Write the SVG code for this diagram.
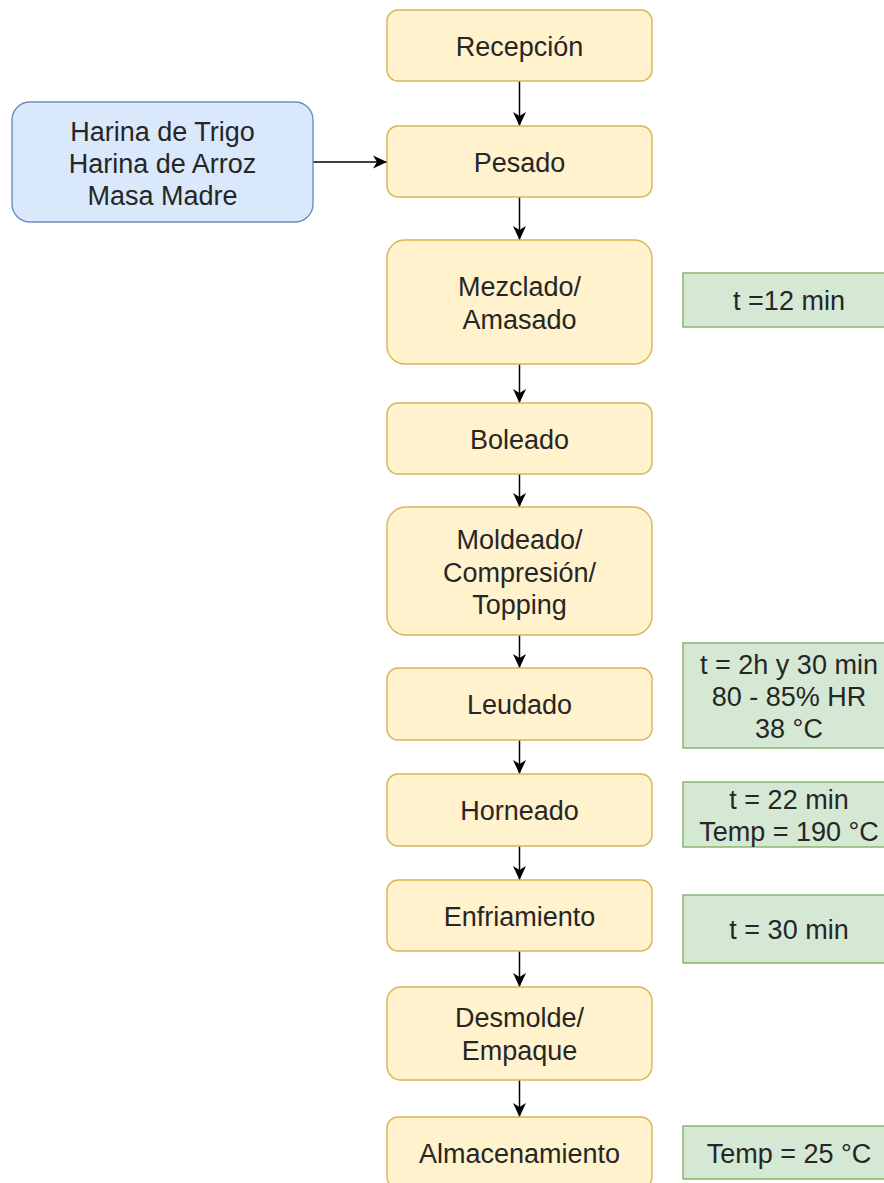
<svg xmlns="http://www.w3.org/2000/svg" width="884" height="1183" viewBox="0 0 884 1183">
<defs>
<marker id="arr" markerUnits="userSpaceOnUse" markerWidth="14" markerHeight="14" refX="14" refY="7" orient="auto" viewBox="0 0 14 14">
<path d="M0,0.5 L14,7 L0,13.5 L4,7 Z" fill="#000"/>
</marker>
<style>
.step{fill:#fff2cc;stroke:#d6b656;stroke-width:1.4}
.input{fill:#dae8fc;stroke:#6c8ebf;stroke-width:1.4}
.note{fill:#d5e8d4;stroke:#82b366;stroke-width:1.4}
text{font-family:"Liberation Sans",Arial,sans-serif;font-size:27px;fill:#262626;text-anchor:middle}
.conn{stroke:#000;stroke-width:1.5;fill:none;marker-end:url(#arr)}
</style>
</defs>
<rect width="884" height="1183" fill="#fff"/>
<g id="connectors">
<line class="conn" x1="519.5" y1="81" x2="519.5" y2="126"/>
<line class="conn" x1="313" y1="162" x2="387" y2="162"/>
<line class="conn" x1="519.5" y1="197" x2="519.5" y2="240"/>
<line class="conn" x1="519.5" y1="364" x2="519.5" y2="403"/>
<line class="conn" x1="519.5" y1="474" x2="519.5" y2="507"/>
<line class="conn" x1="519.5" y1="635" x2="519.5" y2="668"/>
<line class="conn" x1="519.5" y1="740" x2="519.5" y2="774"/>
<line class="conn" x1="519.5" y1="846" x2="519.5" y2="880"/>
<line class="conn" x1="519.5" y1="951" x2="519.5" y2="987"/>
<line class="conn" x1="519.5" y1="1080" x2="519.5" y2="1117"/>
</g>
<g id="recepcion"><rect class="step" x="387" y="10" width="265" height="71" rx="11"/><text x="519.5" y="56">Recepción</text></g>
<g id="insumos"><rect class="input" x="12" y="102" width="301" height="120" rx="18"/><text x="162.5" y="141">Harina de Trigo</text><text x="162.5" y="173">Harina de Arroz</text><text x="162.5" y="205">Masa Madre</text></g>
<g id="pesado"><rect class="step" x="387" y="126" width="265" height="71" rx="11"/><text x="519.5" y="172">Pesado</text></g>
<g id="mezclado"><rect class="step" x="387" y="240" width="265" height="124" rx="18"/><text x="519.5" y="296">Mezclado/</text><text x="519.5" y="329">Amasado</text></g>
<g id="boleado"><rect class="step" x="387" y="403" width="265" height="71" rx="11"/><text x="519.5" y="449">Boleado</text></g>
<g id="moldeado"><rect class="step" x="387" y="507" width="265" height="128" rx="19"/><text x="519.5" y="549">Moldeado/</text><text x="519.5" y="582">Compresión/</text><text x="519.5" y="614">Topping</text></g>
<g id="leudado"><rect class="step" x="387" y="668" width="265" height="72" rx="11"/><text x="519.5" y="714">Leudado</text></g>
<g id="horneado"><rect class="step" x="387" y="774" width="265" height="72" rx="11"/><text x="519.5" y="820">Horneado</text></g>
<g id="enfriamiento"><rect class="step" x="387" y="880" width="265" height="71" rx="11"/><text x="519.5" y="926">Enfriamiento</text></g>
<g id="desmolde"><rect class="step" x="387" y="987" width="265" height="93" rx="14"/><text x="519.5" y="1027">Desmolde/</text><text x="519.5" y="1060">Empaque</text></g>
<g id="almacenamiento"><rect class="step" x="387" y="1117" width="265" height="71" rx="11"/><text x="519.5" y="1163">Almacenamiento</text></g>
<g id="nota-mezclado"><rect class="note" x="683" y="273" width="212" height="54"/><text x="789" y="310">t =12 min</text></g>
<g id="nota-leudado"><rect class="note" x="683" y="643" width="212" height="105"/><text x="789" y="674">t = 2h y 30 min</text><text x="789" y="706">80 - 85% HR</text><text x="789" y="738">38 °C</text></g>
<g id="nota-horneado"><rect class="note" x="683" y="782" width="212" height="65"/><text x="789" y="809">t = 22 min</text><text x="789" y="841">Temp = 190 °C</text></g>
<g id="nota-enfriamiento"><rect class="note" x="683" y="895" width="212" height="68"/><text x="789" y="939">t = 30 min</text></g>
<g id="nota-almacenamiento"><rect class="note" x="683" y="1126" width="212" height="53"/><text x="789" y="1163">Temp = 25 °C</text></g>
</svg>
